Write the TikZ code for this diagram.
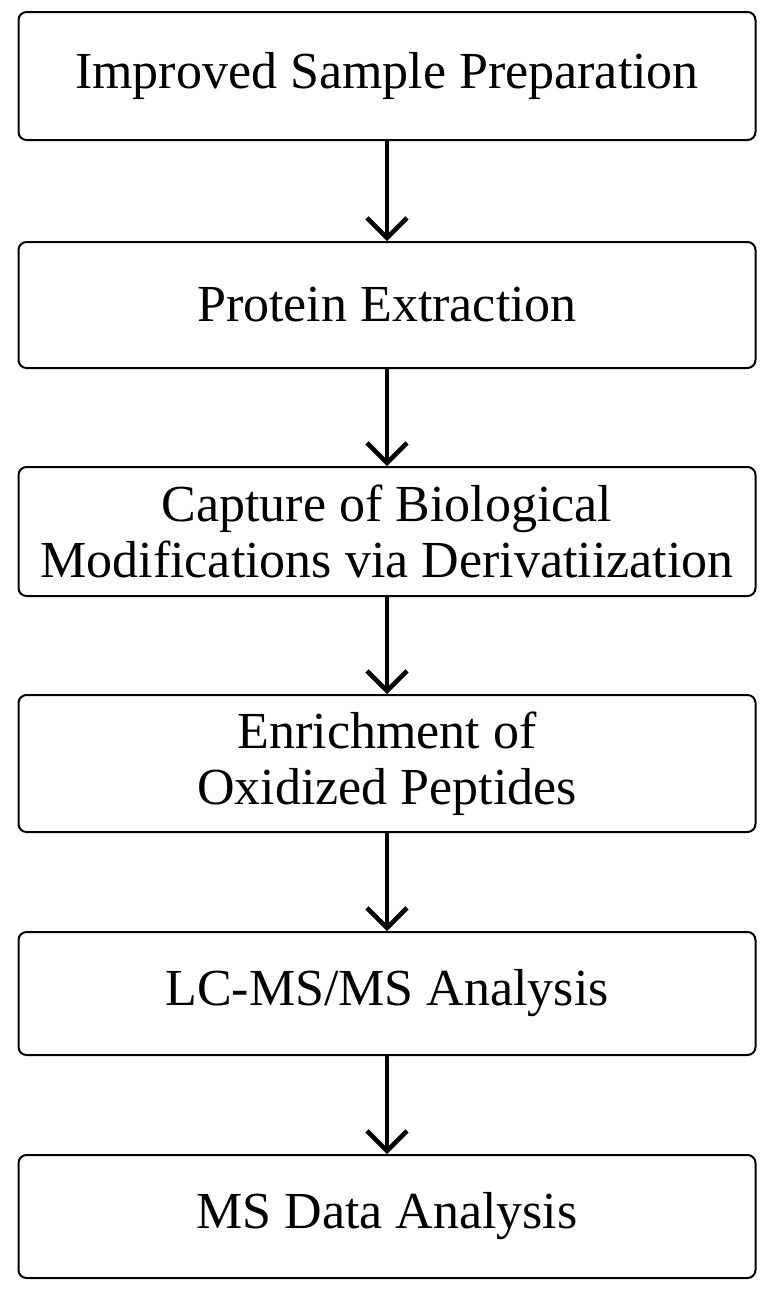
\documentclass[tikz,border=0pt]{standalone}
\usepackage{fontspec}
\setmainfont{Liberation Serif}
\usetikzlibrary{arrows.meta}
\begin{document}
\begin{tikzpicture}[x=1pt,y=-1pt,
 box/.style={draw,line width=2pt,rounded corners=8pt,minimum width=737pt,align=center,font=\fontsize{52}{56}\selectfont,inner sep=0pt},
 arr/.style={line width=4.5pt,-{Straight Barb[length=20pt,width=40pt,line width=4.5pt]}}]
\useasboundingbox (0,0) rectangle (783,1299);
\node[box,minimum height=128pt] (a) at (387,76) {Improved Sample Preparation};
\node[box,minimum height=126pt] (b) at (387,305) {Protein Extraction};
\node[box,minimum height=129pt] (c) at (387,531.5) {Capture of Biological\\Modifications via Derivatiization};
\node[box,minimum height=137pt] (d) at (387,763.5) {Enrichment of\\Oxidized Peptides};
\node[box,minimum height=123pt] (e) at (387,993.5) {LC-MS/MS Analysis};
\node[box,minimum height=123pt] (f) at (387,1216.5) {MS Data Analysis};
\foreach \p/\q in {a/b,b/c,c/d,d/e,e/f} \draw[arr] (\p) -- (\q);
\end{tikzpicture}
\end{document}
